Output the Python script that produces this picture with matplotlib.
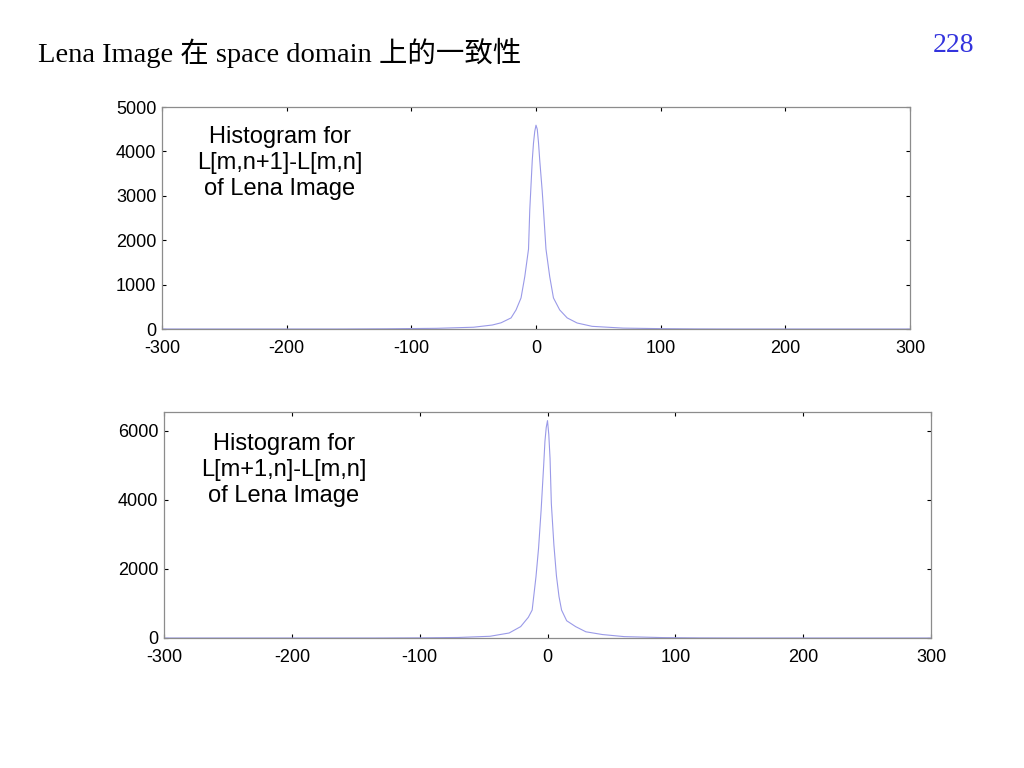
#------------------------------------------------------------------------------------------------------------------
#   Histograms of horizontal / vertical pixel differences of the Lena image.
#------------------------------------------------------------------------------------------------------------------
import matplotlib
matplotlib.use('Agg')
import matplotlib.pyplot as plt

# Histogram of L[m,n+1]-L[m,n]
diff_h = [-300, -160, -120, -80, -50, -35, -28, -20, -16, -12, -9, -6, -5, -3, -2, -1, 0,
          1, 2, 3, 5, 6, 8, 11, 14, 19, 25, 33, 45, 70, 100, 130, 160, 300]
count_h = [0, 0, 5, 15, 40, 90, 140, 250, 430, 700, 1180, 1800, 2680, 3800, 4190, 4450, 4590,
           4500, 4200, 3800, 3100, 2680, 1800, 1180, 700, 430, 250, 135, 60, 20, 8, 2, 0, 0]

# Histogram of L[m+1,n]-L[m,n]
diff_v = [-300, -135, -100, -70, -45, -30, -21, -15, -12, -9, -7, -5, -3, -2, -1, 0,
          1, 2, 3, 5, 7, 9, 11, 15, 22, 30, 43, 60, 90, 120, 150, 300]
count_v = [0, 0, 5, 15, 50, 145, 330, 600, 810, 1780, 2600, 3700, 5000, 5700, 6100, 6300,
           5900, 5200, 3900, 2700, 1800, 1200, 810, 500, 330, 180, 100, 40, 12, 3, 0, 0]

x_ticks = [-300, -200, -100, 0, 100, 200, 300]
x_labels = ['-300', '-200', '-100', '0', '100', '200', '300']
y_ticks_h = [0, 1000, 2000, 3000, 4000, 5000]
y_ticks_v = [0, 2000, 4000, 6000]

line_color = '#9a9ae8'
tick_font = 'Liberation Sans'

fig = plt.figure(figsize=(10.24, 7.68), dpi=100)
W, H = 1024.0, 768.0

def make_axes(left, top, right, bottom):
    return fig.add_axes([left / W, 1 - bottom / H, (right - left) / W, (bottom - top) / H])

def style(ax, yticks, ylim):
    ax.set_xlim(-300, 300)
    ax.set_ylim(*ylim)
    ax.set_xticks(x_ticks, x_labels)
    ax.set_yticks(yticks, [str(v) for v in yticks])
    ax.tick_params(direction='in', length=3, width=0.8, color='black',
                   top=True, right=True, labelsize=13, pad=4)
    ax.tick_params(axis='x', pad=8)
    for sp in ax.spines.values():
        sp.set_color('#8c8c8c')
        sp.set_linewidth(0.9)
    for lab in ax.get_xticklabels() + ax.get_yticklabels():
        lab.set_fontfamily(tick_font)

# Top plot
ax1 = make_axes(162, 107, 910, 329)
ax1.plot(diff_h, count_h, color=line_color, lw=0.8)
style(ax1, y_ticks_h, (0, 5000))

# Bottom plot
ax2 = make_axes(164, 412, 931, 638)
ax2.plot(diff_v, count_v, color=line_color, lw=0.8)
style(ax2, y_ticks_v, (0, 6550))

# annotations placed in pixel coordinates (origin bottom-left)
fig.text(280 / W, 1 - 163 / H, 'Histogram for\nL[m,n+1]-L[m,n]\nof Lena Image',
         ha='center', va='center', fontsize=17, linespacing=1.24, family=tick_font)
fig.text(284 / W, 1 - 470 / H, 'Histogram for\nL[m+1,n]-L[m,n]\nof Lena Image',
         ha='center', va='center', fontsize=17, linespacing=1.24, family=tick_font)

# Slide title and page number
fig.text(38 / W, 1 - 53 / H, 'Lena Image 在 space domain 上的一致性',
         ha='left', va='center', fontsize=20.5, family=['Liberation Serif', 'Noto Sans CJK SC'])
fig.text(974 / W, 1 - 45 / H, '228', ha='right', va='center', fontsize=20,
         color='#3333dd', family='Liberation Serif')

fig.savefig('out.png', dpi=100)
